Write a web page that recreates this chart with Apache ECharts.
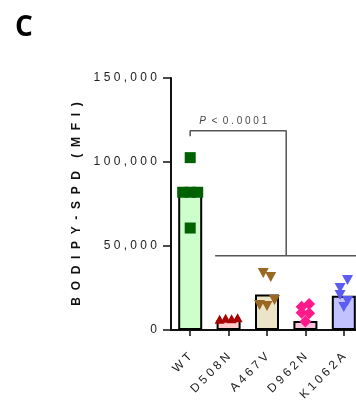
<!DOCTYPE html>
<html>
<head>
<meta charset="utf-8">
<script src="https://cdn.jsdelivr.net/npm/echarts@6/dist/echarts.min.js"></script>
<style>
  html, body { margin: 0; padding: 0; background: #fff; }
  #chart { width: 356px; height: 413px; }
</style>
</head>
<body>
<div id="chart"></div>
<script>
// Groups and measured BODIPY-SPD fluorescence (MFI) per replicate
const categories = ['WT', 'D508N', 'A467V', 'D962N', 'K1062A'];
const wtValues = [82000, 102600, 82000, 82000, 60700];
const d508nValues = [6400, 7000, 6700, 7300];
const a467vValues = [33900, 31500, 14900, 14300, 17900];
const d962nValues = [13900, 15500, 10200, 10000, 5100];
const k1062aValues = [25000, 29800, 20800, 17300, 13700];
// Group means shown as bars
const groupMeans = [81900, 6000, 21200, 5400, 20400];
const yTicks = { min: 0, max: 150000, interval: 50000 };
// Significance annotation: WT vs. all mutants
const pText = 'P < 0.0001';
const bracketTop = 118600;
const bracketTickEnd = 115400;
const bracketLow = 44200;
const pLabelValue = 124500;

const groups = [wtValues, d508nValues, a467vValues, d962nValues, k1062aValues];
const barFills = ['#ccffcc', '#ffcccc', '#ebe4c6', '#ffc2dc', '#c2c2ff'];
const markColors = ['#006100', '#a80000', '#9a6824', '#ff1a8c', '#5c5cf2'];
const markSymbols = ['rect', 'triangle', 'triangle', 'diamond', 'triangle'];
const markRotate = [0, 0, 180, 0, 180];
const markSizes = [[11, 11], [10, 9], [11, 10], [12, 12], [11, 10]];

const FONT = 'Liberation Sans';
const spaced = s => String(s).split('').join(' ');

// Simple beeswarm: values close together share a row and are spread sideways
function spreadOffsets(values, rowSpan, step, maxSpan) {
  const order = values.map((v, i) => i).sort((a, b) => values[b] - values[a]);
  const rows = [];
  order.forEach(i => {
    const row = rows[rows.length - 1];
    if (row && values[row[0]] - values[i] <= rowSpan) row.push(i);
    else rows.push([i]);
  });
  const offsets = new Array(values.length).fill(0);
  rows.forEach(row => {
    row.sort((a, b) => a - b);
    const k = row.length;
    const st = k > 1 ? Math.min(step, maxSpan / (k - 1)) : 0;
    row.forEach((idx, j) => { offsets[idx] = (j - (k - 1) / 2) * st; });
  });
  return offsets;
}

const scatterSeries = groups.map((vals, g) => {
  const offs = spreadOffsets(vals, 5000, 7.5, 18);
  return {
    type: 'scatter',
    xAxisIndex: 0,
    yAxisIndex: 0,
    z: 3,
    symbol: markSymbols[g],
    symbolSize: markSizes[g],
    symbolRotate: markRotate[g],
    itemStyle: { color: markColors[g], opacity: 1 },
    silent: true,
    data: vals.map((v, i) => ({ value: [categories[g], v], symbolOffset: [offs[i], 0] }))
  };
});

const lineStyle = { color: '#555', width: 1.5 };
const lastIdx = categories.length - 1;
const midMutants = (1 + lastIdx) / 2;

const option = {
  animation: false,
  title: {
    text: 'C', left: 10, top: 9,
    textStyle: { fontFamily: 'Open Sans', fontWeight: 'bold', fontSize: 28, color: '#000' }
  },
  grid: { left: 171, top: 78, width: 192, height: 252, containLabel: false, outerBoundsMode: 'none' },
  xAxis: [{
    type: 'category',
    data: categories,
    axisLine: { show: true, onZero: false, lineStyle: { color: '#111', width: 2 } },
    axisTick: { show: true, alignWithLabel: true, length: 6, lineStyle: { color: '#111', width: 1.5 } },
    axisLabel: {
      rotate: 45, margin: 25, fontFamily: FONT, fontSize: 12, color: '#222',
      formatter: v => spaced(v)
    },
    splitLine: { show: false }
  }, {
    type: 'value', show: false, min: -0.5, max: categories.length - 0.5,
    axisLine: { onZero: false }
  }],
  yAxis: {
    type: 'value', min: yTicks.min, max: yTicks.max, interval: yTicks.interval,
    name: 'B  O  D  I  P  Y  -  S  P  D    (  M  F  I  )',
    nameLocation: 'middle', nameGap: 88, nameRotate: 90,
    nameTextStyle: { fontFamily: FONT, fontWeight: 'bold', fontSize: 12, color: '#111' },
    axisLine: { show: true, onZero: false, lineStyle: { color: '#111', width: 2 } },
    axisTick: { show: true, length: 8, lineStyle: { color: '#111', width: 1.5 } },
    axisLabel: {
      margin: 14, fontFamily: FONT, fontSize: 12, color: '#222',
      formatter: v => spaced(v.toLocaleString('en-US'))
    },
    splitLine: { show: false }
  },
  series: [{
    type: 'bar',
    data: groupMeans.map((v, g) => ({ value: v, itemStyle: { color: barFills[g] } })),
    barWidth: 24,
    z: 2,
    silent: true,
    itemStyle: { borderColor: '#000', borderWidth: 2 }
  }].concat(scatterSeries).concat([{
    type: 'line', xAxisIndex: 1, yAxisIndex: 0, z: 4, silent: true,
    symbol: 'none', lineStyle,
    data: [[0, bracketTickEnd], [0, bracketTop], [lastIdx / 2 + 0.5, bracketTop], [lastIdx / 2 + 0.5, bracketLow]]
  }, {
    type: 'line', xAxisIndex: 1, yAxisIndex: 0, z: 4, silent: true,
    symbol: 'none', lineStyle,
    data: [[midMutants - 1.85, bracketLow], [midMutants + 1.85, bracketLow]]
  }, {
    type: 'scatter', xAxisIndex: 1, yAxisIndex: 0, z: 4, silent: true,
    symbolSize: 0,
    data: [[1.12, pLabelValue]],
    label: {
      show: true, position: 'inside',
      formatter: '{i|P}{t|  <  ' + spaced(pText.split('< ')[1]) + '}',
      rich: {
        i: { fontFamily: FONT, fontStyle: 'italic', fontSize: 10, color: '#111' },
        t: { fontFamily: FONT, fontSize: 10, color: '#111' }
      }
    }
  }])
};

const chart = echarts.init(document.getElementById('chart'), null, { renderer: 'canvas' });
chart.setOption(option);
</script>
</body>
</html>
